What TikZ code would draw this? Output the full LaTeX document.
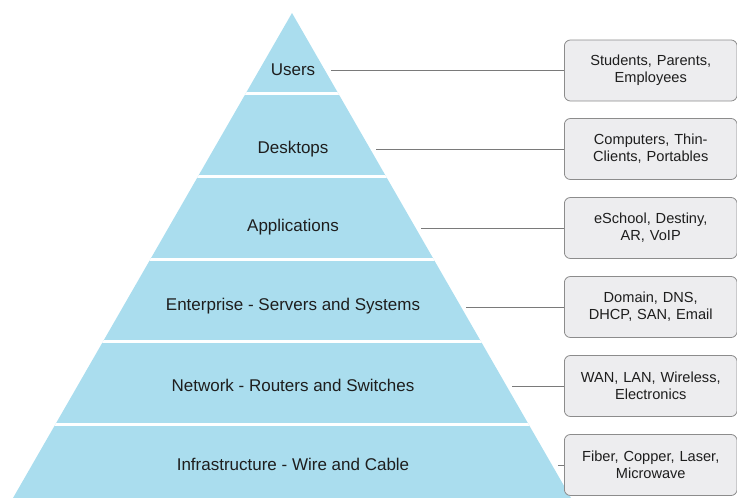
\documentclass[tikz,border=0pt]{standalone}
\usepackage{fontspec}
\setmainfont{Liberation Sans}
\definecolor{pyrblue}{HTML}{AADDEE}
\definecolor{boxgray}{HTML}{EDEDEF}
\definecolor{boxline}{HTML}{8C8C8C}
\definecolor{linkgray}{HTML}{7A7A7A}
\definecolor{txtdark}{HTML}{1E1E1E}
\begin{document}
\begin{tikzpicture}[x=1pt,y=-1pt,
  layer/.style={text=txtdark, font=\fontsize{17}{20}\selectfont},
  infobox/.style={draw=boxline, fill=boxgray, rounded corners=6pt, line width=0.8pt,
    minimum width=172pt, minimum height=61pt, text width=166pt, align=center,
    text=txtdark, font=\fontsize{14.6}{17}\selectfont},
  link/.style={draw=linkgray, line width=0.8pt}]
\useasboundingbox (0,0) rectangle (737,498);
% pyramid with white gaps between the layers
\begin{scope}
\clip (292,13) -- (571,498) -- (13,498) -- cycle;
\fill [pyrblue] (0,0) rectangle (737,498);
\draw [white, line width=3pt] (0,93) -- (737,93);
\draw [white, line width=3pt] (0,176) -- (737,176);
\draw [white, line width=3pt] (0,259) -- (737,259);
\draw [white, line width=3pt] (0,341) -- (737,341);
\draw [white, line width=3pt] (0,424) -- (737,424);
\end{scope}
% layer names
\node [layer] (users) at (293,70) {Users};
\node [layer] (desktops) at (293,149) {Desktops};
\node [layer] (apps) at (293,227) {Applications};
\node [layer] (enterprise) at (293,306) {Enterprise - Servers and Systems};
\node [layer] (network) at (293,385) {Network - Routers and Switches};
\node [layer] (infra) at (293,464) {Infrastructure - Wire and Cable};
% boxes on the right
\node [infobox, anchor=west] (usersbox) at (564,70.5) {Students, Parents,\\Employees};
\node [infobox, anchor=west] (desktopsbox) at (564,149) {Computers, Thin-\\Clients, Portables};
\node [infobox, anchor=west] (appsbox) at (564,228) {eSchool, Destiny,\\AR, VoIP};
\node [infobox, anchor=west] (enterprisebox) at (564,307) {Domain, DNS,\\DHCP, SAN, Email};
\node [infobox, anchor=west] (networkbox) at (564,386) {WAN, LAN, Wireless,\\Electronics};
\node [infobox, anchor=west] (infrabox) at (564,465) {Fiber, Copper, Laser,\\Microwave};
% connectors
\coordinate (usersend) at (331,70.5);
\coordinate (desktopsend) at (376,149);
\coordinate (appsend) at (421,228);
\coordinate (enterpriseend) at (466,307);
\coordinate (networkend) at (512,386);
\coordinate (infraend) at (558,465);
\draw [link] (usersend) -- (usersbox.west);
\draw [link] (desktopsend) -- (desktopsbox.west);
\draw [link] (appsend) -- (appsbox.west);
\draw [link] (enterpriseend) -- (enterprisebox.west);
\draw [link] (networkend) -- (networkbox.west);
\draw [link] (infraend) -- (infrabox.west);
\end{tikzpicture}
\end{document}
